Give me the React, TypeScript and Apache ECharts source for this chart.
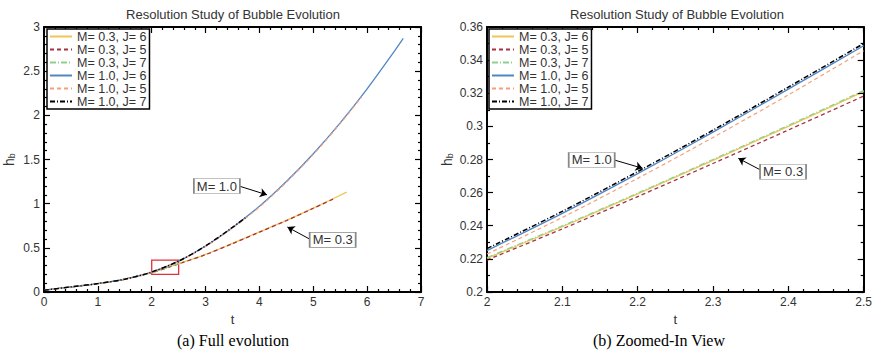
import React, { useEffect, useRef } from "react";
import * as echarts from "echarts";

// ---------- data ----------
const seriesNames = ["M= 0.3, J= 6", "M= 0.3, J= 5", "M= 0.3, J= 7", "M= 1.0, J= 6", "M= 1.0, J= 5", "M= 1.0, J= 7"];
const seriesColors = ["#EFC653", "#A83240", "#8FD08F", "#4F86C6", "#F4A07A", "#000000"];

// Full evolution (panel a)
const tM03J6 = [0, 0.5, 1, 1.5, 2, 2.5, 3, 3.5, 4, 4.5, 5, 5.62];
const hM03J6 = [0.02, 0.058, 0.095, 0.145, 0.22, 0.32, 0.425, 0.55, 0.68, 0.81, 0.95, 1.13];
const tM03J5 = [0, 0.5, 1, 1.5, 2, 2.5, 3, 3.5, 4, 4.5, 5, 5.4];
const hM03J5 = [0.02, 0.058, 0.095, 0.145, 0.219, 0.318, 0.423, 0.548, 0.678, 0.808, 0.948, 1.06];
const tM03J7 = [0, 0.5, 1, 1.5, 2, 2.5, 2.6];
const hM03J7 = [0.02, 0.058, 0.095, 0.145, 0.221, 0.322, 0.342];
const tM10J6 = [0, 0.5, 1, 1.5, 2, 2.5, 3, 3.5, 4, 4.5, 5, 5.5, 6, 6.5, 6.67];
const hM10J6 = [0.02, 0.058, 0.095, 0.145, 0.225, 0.349, 0.52, 0.73, 0.97, 1.25, 1.565, 1.915, 2.3, 2.72, 2.87];
const tM10J5 = [0, 0.5, 1, 1.5, 2, 2.5, 3, 3.5, 4, 4.5, 5, 5.5, 5.9];
const hM10J5 = [0.02, 0.058, 0.095, 0.145, 0.223, 0.346, 0.515, 0.723, 0.962, 1.242, 1.556, 1.906, 2.21];
const tM10J7 = [0, 0.5, 1, 1.5, 2, 2.5, 3, 3.5, 3.77];
const hM10J7 = [0.02, 0.058, 0.095, 0.145, 0.226, 0.35, 0.522, 0.732, 0.855];

// Zoomed-in view (panel b)
const tZoom = [2.0, 2.1, 2.2, 2.3, 2.4, 2.5];
const zM03J6 = [0.2203, 0.2394, 0.2592, 0.2795, 0.3, 0.321];
const zM03J5 = [0.2193, 0.2381, 0.2576, 0.2776, 0.2978, 0.3183];
const zM03J7 = [0.2208, 0.2399, 0.2597, 0.28, 0.3006, 0.3216];
const zM10J6 = [0.225, 0.2475, 0.2715, 0.2965, 0.3225, 0.3487];
const zM10J5 = [0.2229, 0.245, 0.2686, 0.2933, 0.319, 0.3457];
const zM10J7 = [0.2262, 0.2487, 0.2727, 0.2977, 0.3237, 0.35];

// axis ranges [min, max, majorInterval, minorSplits]
const fullX = [0, 7, 1, 5];
const fullY = [0, 3, 0.5, 5];
const zoomX = [2, 2.5, 0.1, 5];
const zoomY = [0.2, 0.36, 0.02, 2];

// annotations [boxT, boxH, arrowFromT, arrowFromH, arrowToT, arrowToH]
const annFullM10 = [3.21, 1.2, 3.64, 1.196, 4.14, 1.1];
const annFullM03 = [5.36, 0.59, 4.93, 0.6, 4.52, 0.735];
const annZoomM10 = [2.139, 0.2797, 2.169, 0.2797, 2.2065, 0.2747];
const annZoomM03 = [2.393, 0.2726, 2.363, 0.2737, 2.3336, 0.2807];
const zoomBox = [2, 0.2, 2.5, 0.36];

const titleText = "Resolution Study of Bubble Evolution";
const captionA = "(a) Full evolution";
const captionB = "(b) Zoomed-In View";

// ---------- layout ----------
const GRID_A = { left: 44, top: 27, width: 377, height: 265 };
const GRID_B = { left: 487, top: 27, width: 378, height: 265 };
const MAJOR_LEN = 6;
const MINOR_LEN = 3;

// ---------- helpers ----------
const SANS = "'Liberation Sans', Arial, sans-serif";
const SERIF = "'Liberation Serif', 'DejaVu Serif', serif";
const lineTypes: any[] = ["solid", [4, 3], [6, 2, 1, 2], "solid", [4, 3], [5, 2, 1, 2]];
const lineWidths = [1.3, 1.3, 1.3, 1.3, 1.2, 1.5];

const zip = (a: number[], b: number[]) => a.map((v, i) => [v, b[i]]);

function annMarks(a: number[], label: string) {
  return {
    markPoint: {
      silent: true,
      symbol: "rect",
      symbolSize: [46, 15],
      itemStyle: { color: "#fff", borderColor: "#888", borderWidth: 1 },
      label: { show: true, position: "inside", color: "#333", fontSize: 13, fontFamily: SANS, formatter: label },
      data: [{ coord: [a[0], a[1]] }],
    },
    markLine: {
      silent: true,
      symbol: ["none", "arrow"],
      symbolSize: 7,
      lineStyle: { color: "#000", type: "solid", width: 1 },
      label: { show: false },
      data: [[{ coord: [a[2], a[3]] }, { coord: [a[4], a[5]] }]],
    },
  };
}

function tickValues(r: number[]) {
  const step = r[2] / r[3];
  const n = Math.round((r[1] - r[0]) / step);
  const out: { v: number; major: boolean }[] = [];
  for (let i = 0; i <= n; i++) out.push({ v: +(r[0] + i * step).toFixed(6), major: i % r[3] === 0 });
  return out;
}

// inward tick marks on all four sides, as markLine segments in axis units
function tickMarkLine(g: any, rx: number[], ry: number[]) {
  const perPxX = (rx[1] - rx[0]) / g.width;
  const perPxY = (ry[1] - ry[0]) / g.height;
  const data: any[] = [];
  tickValues(rx).forEach(({ v, major }) => {
    const d = (major ? MAJOR_LEN : MINOR_LEN) * perPxY;
    data.push([{ coord: [v, ry[0]] }, { coord: [v, ry[0] + d] }]);
    data.push([{ coord: [v, ry[1]] }, { coord: [v, ry[1] - d] }]);
  });
  tickValues(ry).forEach(({ v, major }) => {
    const d = (major ? MAJOR_LEN : MINOR_LEN) * perPxX;
    data.push([{ coord: [rx[0], v] }, { coord: [rx[0] + d, v] }]);
    data.push([{ coord: [rx[1], v] }, { coord: [rx[1] - d, v] }]);
  });
  return {
    markLine: {
      silent: true,
      symbol: ["none", "none"],
      lineStyle: { color: "#000", type: "solid", width: 1.2, opacity: 1 },
      label: { show: false },
      emphasis: { disabled: true },
      data,
    },
  };
}

function xAx(grid: number, r: number[], top: boolean) {
  return {
    type: "value",
    gridIndex: grid,
    min: r[0],
    max: r[1],
    interval: r[2],
    position: top ? "top" : "bottom",
    name: top ? "" : "t",
    nameLocation: "middle",
    nameGap: 19,
    nameTextStyle: { fontSize: 13, color: "#333", fontFamily: SANS },
    axisLine: { show: true, onZero: false, lineStyle: { color: "#000", width: 2 } },
    axisTick: { show: false },
    minorTick: { show: false },
    axisLabel: { show: !top, color: "#333", fontSize: 12, fontFamily: SANS, margin: 4, showMinLabel: true, showMaxLabel: true },
    splitLine: { show: false },
  };
}

function yAx(grid: number, r: number[], right: boolean, gap: number) {
  return {
    type: "value",
    gridIndex: grid,
    min: r[0],
    max: r[1],
    interval: r[2],
    position: right ? "right" : "left",
    name: right ? "" : "{h|h}{b|b}",
    nameLocation: "middle",
    nameRotate: 90,
    nameGap: gap,
    nameTextStyle: {
      color: "#333",
      fontFamily: SANS,
      rich: {
        h: { fontSize: 14, color: "#333", fontFamily: SANS },
        b: { fontSize: 9, color: "#333", fontFamily: SANS, verticalAlign: "bottom", padding: [6, 0, 0, 0] },
      },
    },
    axisLine: { show: true, onZero: false, lineStyle: { color: "#000", width: 2 } },
    axisTick: { show: false },
    minorTick: { show: false },
    axisLabel: { show: !right, color: "#333", fontSize: 12, fontFamily: SANS, margin: 4, showMinLabel: true, showMaxLabel: true },
    splitLine: { show: false },
  };
}

function mkSeries(idx: number, data: number[][], xi: number, yi: number, extra: any = {}) {
  return {
    type: "line",
    name: seriesNames[idx],
    xAxisIndex: xi,
    yAxisIndex: yi,
    data,
    showSymbol: false,
    symbol: "none",
    smooth: 0.3,
    color: seriesColors[idx],
    lineStyle: { color: seriesColors[idx], width: lineWidths[idx], type: lineTypes[idx] },
    emphasis: { disabled: true },
    z: 2 + idx,
    ...extra,
  };
}

function legendFor(left: number) {
  return {
    orient: "vertical",
    left,
    top: 29,
    data: seriesNames,
    selectedMode: false,
    itemWidth: 22,
    itemHeight: 13,
    itemGap: 0,
    padding: [1, 3, 1, 2],
    backgroundColor: "#fff",
    borderColor: "#000",
    borderWidth: 1.5,
    borderRadius: 0,
    z: 60,
    itemStyle: { color: "rgba(0,0,0,0)", borderColor: "rgba(0,0,0,0)", borderWidth: 0 },
    textStyle: { fontSize: 12.5, color: "#333", fontFamily: SANS, lineHeight: 13 },
  };
}

export default function App() {
  const ref = useRef<HTMLDivElement>(null);
  useEffect(() => {
    if (!ref.current) return;
    const chart = echarts.init(ref.current, null, { renderer: "svg" });
    const fullData = [
      zip(tM03J6, hM03J6),
      zip(tM03J5, hM03J5),
      zip(tM03J7, hM03J7),
      zip(tM10J6, hM10J6),
      zip(tM10J5, hM10J5),
      zip(tM10J7, hM10J7),
    ];
    const zoomData = [zM03J6, zM03J5, zM03J7, zM10J6, zM10J5, zM10J7].map((h) => zip(tZoom, h));

    const series: any[] = [];
    fullData.forEach((d, i) => {
      let extra: any = {};
      if (i === 0) {
        extra = {
          ...annMarks(annFullM03, "M= 0.3"),
          markArea: {
            silent: true,
            itemStyle: { color: "rgba(0,0,0,0)", borderColor: "#E0303A", borderWidth: 1.3 },
            data: [[{ coord: [zoomBox[0], zoomBox[1]] }, { coord: [zoomBox[2], zoomBox[3]] }]],
          },
        };
      }
      if (i === 3) extra = annMarks(annFullM10, "M= 1.0");
      if (i === 4) extra = tickMarkLine(GRID_A, fullX, fullY);
      series.push(mkSeries(i, d, 0, 0, extra));
    });
    zoomData.forEach((d, i) => {
      let extra: any = {};
      if (i === 0) extra = annMarks(annZoomM03, "M= 0.3");
      if (i === 3) extra = annMarks(annZoomM10, "M= 1.0");
      if (i === 4) extra = tickMarkLine(GRID_B, zoomX, zoomY);
      series.push(mkSeries(i, d, 2, 2, extra));
    });

    chart.setOption({
      animation: false,
      backgroundColor: "#fff",
      grid: [GRID_A, GRID_B],
      xAxis: [xAx(0, fullX, false), xAx(0, fullX, true), xAx(1, zoomX, false), xAx(1, zoomX, true)],
      yAxis: [yAx(0, fullY, false, 28), yAx(0, fullY, true, 28), yAx(1, zoomY, false, 33), yAx(1, zoomY, true, 33)],
      legend: [legendFor(47), legendFor(489)],
      series,
      graphic: [
        { type: "text", x: 233, y: 14, style: { text: titleText, fill: "#333", font: `13px ${SANS}`, textAlign: "center", textVerticalAlign: "middle" } },
        { type: "text", x: 677, y: 14, style: { text: titleText, fill: "#333", font: `13px ${SANS}`, textAlign: "center", textVerticalAlign: "middle" } },
        { type: "text", x: 233, y: 340, style: { text: captionA, fill: "#000", font: `16px ${SERIF}`, textAlign: "center", textVerticalAlign: "middle" } },
        { type: "text", x: 659, y: 340, style: { text: captionB, fill: "#000", font: `16px ${SERIF}`, textAlign: "center", textVerticalAlign: "middle" } },
      ],
    });
    return () => chart.dispose();
  }, []);
  return <div ref={ref} style={{ position: "absolute", left: 0, top: 0, width: 875, height: 353 }} />;
}
